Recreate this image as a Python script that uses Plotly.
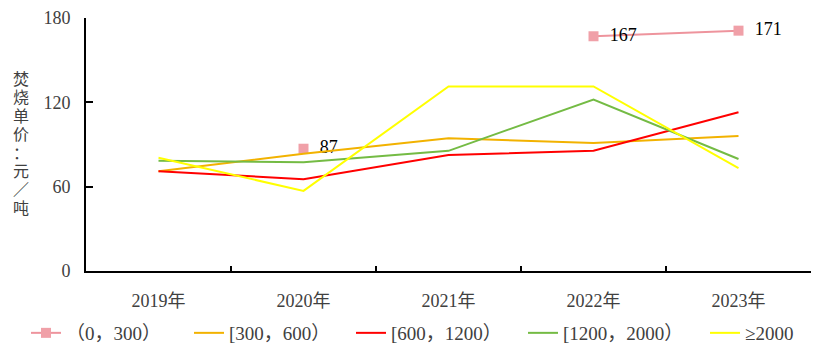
import plotly.graph_objects as go

years = ["2019年", "2020年", "2021年", "2022年", "2023年"]
s_0_300 = [None, 87, None, 167, 171]
s_300_600 = [71, 83.5, 94.5, 91, 96]
s_600_1200 = [71, 65.3, 82.5, 85.5, 113]
s_1200_2000 = [78.5, 77.3, 85.5, 122, 79.7]
s_2000 = [80.5, 57, 131.3, 131.3, 73.2]
names = ["（0，300）", "[300，600）", "[600，1200）", "[1200，2000）", "≥2000"]
colors = ["#EE949D", "#F2B200", "#FF0000", "#74BB44", "#FFFF00"]
label_0_300 = ["", "  87", "", "  167", "  171"]
y_title = "焚烧单价：元／吨"

FONT = "Liberation Serif, Noto Sans CJK SC"

W, H = 822, 347
ML, MR, MT, MB = 78, 19, 10, 84
PH = H - MT - MB
PW = W - ML - MR

legend_ids = ["legend", "legend2", "legend3", "legend4", "legend5"]
legend_left_px = [18, 181, 343, 515, 697]

fig = go.Figure()
fig.add_trace(go.Scatter(
    x=years, y=s_0_300, name=names[0], mode="lines+markers+text",
    line=dict(color=colors[0], width=2),
    marker=dict(symbol="square", size=10, color="#F0A0A8"),
    text=label_0_300, textposition="middle right",
    textfont=dict(family=FONT, size=18, color="#000000"),
    connectgaps=False, legend=legend_ids[0],
))
for vals, nm, c, lg in zip([s_300_600, s_600_1200, s_1200_2000, s_2000], names[1:], colors[1:], legend_ids[1:]):
    fig.add_trace(go.Scatter(x=years, y=vals, name=nm, mode="lines",
                             line=dict(color=c, width=2), legend=lg))

annotations = []
for i, ch in enumerate(y_title):
    yc = 71.5 + i * 18.4
    annotations.append(dict(
        text=ch, x=-0.0897, y=(H - MB - yc) / PH, xref="paper", yref="paper",
        showarrow=False, xanchor="center", yanchor="middle",
        font=dict(family=FONT, size=16, color="#404040"),
    ))

legends = {}
for lg, lx in zip(legend_ids, legend_left_px):
    legends[lg] = dict(orientation="h", x=(lx - ML) / PW, xanchor="left",
                       y=-62 / PH, yanchor="middle",
                       font=dict(family=FONT, size=19, color="#404040"),
                       bgcolor="rgba(0,0,0,0)")

fig.update_layout(
    width=W, height=H,
    margin=dict(l=ML, r=MR, t=MT, b=MB, autoexpand=False),
    plot_bgcolor="white", paper_bgcolor="white",
    font=dict(family=FONT, size=15, color="#404040"),
    showlegend=True,
    xaxis=dict(
        type="category", tickson="boundaries", range=[-0.5, 4.5],
        showline=True, linecolor="black",
        linewidth=2, ticks="inside", ticklen=5, tickcolor="black", tickwidth=2,
        showgrid=False, ticklabelstandoff=12, zeroline=False,
        tickfont=dict(family=FONT, size=18, color="#404040"),
    ),
    yaxis=dict(
        range=[0, 180], tickvals=[0, 60, 120, 180], showline=True, linecolor="black",
        linewidth=2, ticks="inside", ticklen=7, tickcolor="black", tickwidth=2,
        showgrid=False, zeroline=False, ticklabelstandoff=10,
        tickfont=dict(family=FONT, size=18, color="#404040"),
    ),
    annotations=annotations,
    **legends,
)

fig.write_html("out.html")
